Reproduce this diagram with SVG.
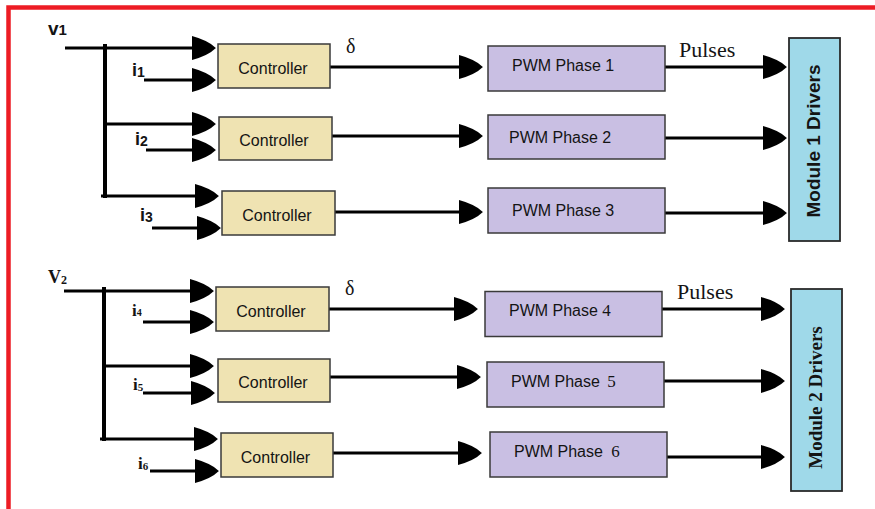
<svg xmlns="http://www.w3.org/2000/svg" width="875" height="509" viewBox="0 0 875 509">
  <style>
    .ctrl { fill: #efe3b2; stroke: #3a3a3a; stroke-width: 1.5; }
    .pwm { fill: #c9bfe3; stroke: #3a3a3a; stroke-width: 1.5; }
    .mod { fill: #9fd9e9; stroke: #2a2a2a; stroke-width: 1.8; }
    .sans { font-family: "Liberation Sans", Arial, sans-serif; fill: #141414; }
    .serif { font-family: "Liberation Serif", "Times New Roman", serif; fill: #141414; }
    .ct { font-size: 16px; text-anchor: middle; }
    .pt { font-size: 16px; }
    .wire { stroke: #000; stroke-width: 3; fill: none; }
    .arr { stroke: #000; stroke-width: 3; fill: none; marker-end: url(#ah); }
    .bus { stroke: #000; stroke-width: 4; fill: none; }
  </style>
  <defs>
    <marker id="ah" markerUnits="userSpaceOnUse" markerWidth="24" markerHeight="24" viewBox="0 0 22 22" refX="12" refY="11" orient="auto">
      <path d="M0,0 Q15,4 22,11 Q15,18 0,22 z" fill="#000"/>
    </marker>
  </defs>

  <rect width="875" height="509" fill="#fff"/>
  <!-- red frame -->
  <path d="M8.5,509 L8.5,7.5 L875,7.5" fill="none" stroke="#ed1c24" stroke-width="4.5"/>

  <!-- connectors -->
  <g id="connectors">
    <line class="bus" x1="105" y1="44" x2="105" y2="198"/>
    <line class="arr" x1="65" y1="48" x2="205" y2="48"/>
    <line class="arr" x1="103" y1="124" x2="205" y2="124"/>
    <line class="arr" x1="101" y1="196" x2="208" y2="196"/>
    <line class="arr" x1="144" y1="80" x2="205" y2="80"/>
    <line class="arr" x1="146" y1="150" x2="205" y2="150"/>
    <line class="arr" x1="152" y1="228" x2="210" y2="228"/>

    <line class="bus" x1="104" y1="287" x2="104" y2="441"/>
    <line class="arr" x1="64" y1="291" x2="203" y2="291"/>
    <line class="arr" x1="102" y1="366" x2="203" y2="366"/>
    <line class="arr" x1="100" y1="439" x2="207" y2="439"/>
    <line class="arr" x1="143" y1="322" x2="203" y2="322"/>
    <line class="arr" x1="143" y1="393" x2="204" y2="393"/>
    <line class="arr" x1="150" y1="471" x2="208" y2="471"/>

    <line class="arr" x1="330" y1="67" x2="472" y2="67"/>
    <line class="arr" x1="332" y1="136" x2="472" y2="136"/>
    <line class="arr" x1="335" y1="212" x2="472" y2="212"/>
    <line class="arr" x1="329" y1="309" x2="467" y2="309"/>
    <line class="arr" x1="330" y1="377" x2="470" y2="377"/>
    <line class="arr" x1="333" y1="453" x2="471" y2="453"/>

    <line class="arr" x1="665" y1="67" x2="776" y2="67"/>
    <line class="arr" x1="665" y1="138" x2="776" y2="138"/>
    <line class="arr" x1="665" y1="213" x2="776" y2="213"/>
    <line class="arr" x1="662" y1="309" x2="774" y2="309"/>
    <line class="arr" x1="664" y1="381" x2="774" y2="381"/>
    <line class="arr" x1="667" y1="457" x2="774" y2="457"/>
  </g>

  <!-- input / signal labels -->
  <g id="labels">
    <text class="sans" x="48" y="35" font-size="19" font-weight="bold">v<tspan font-size="15">1</tspan></text>
    <text class="sans" x="132" y="76" font-size="18" font-weight="bold">i<tspan font-size="14" dy="1">1</tspan></text>
    <text class="sans" x="135" y="145" font-size="18" font-weight="bold">i<tspan font-size="14" dy="1">2</tspan></text>
    <text class="sans" x="140" y="221" font-size="18" font-weight="bold">i<tspan font-size="14" dy="1">3</tspan></text>
    <text class="serif" x="48" y="283" font-size="18" font-weight="bold">V<tspan font-size="12" dy="1">2</tspan></text>
    <text class="serif" x="132" y="316" font-size="17" font-weight="bold">i<tspan font-size="10">4</tspan></text>
    <text class="serif" x="133" y="390" font-size="17" font-weight="bold">i<tspan font-size="11" dy="1">5</tspan></text>
    <text class="serif" x="138" y="469" font-size="17" font-weight="bold">i<tspan font-size="11" dy="1">6</tspan></text>
    <text class="serif" x="346" y="53" font-size="20">δ</text>
    <text class="serif" x="345" y="295" font-size="20">δ</text>
    <text class="serif" x="679" y="57" font-size="22">Pulses</text>
    <text class="serif" x="677" y="299" font-size="22">Pulses</text>
  </g>

  <!-- controllers -->
  <g id="controller1"><rect class="ctrl" x="218" y="44" width="112" height="44"/><text class="sans ct" x="273" y="74">Controller</text></g>
  <g id="controller2"><rect class="ctrl" x="219" y="117" width="113" height="43"/><text class="sans ct" x="274" y="146">Controller</text></g>
  <g id="controller3"><rect class="ctrl" x="222" y="191" width="113" height="44"/><text class="sans ct" x="277" y="220.5">Controller</text></g>
  <g id="controller4"><rect class="ctrl" x="216" y="287" width="113" height="44"/><text class="sans ct" x="271" y="316.5">Controller</text></g>
  <g id="controller5"><rect class="ctrl" x="218" y="359" width="112" height="43"/><text class="sans ct" x="273" y="388">Controller</text></g>
  <g id="controller6"><rect class="ctrl" x="221" y="433" width="112" height="44"/><text class="sans ct" x="275.5" y="463">Controller</text></g>

  <!-- PWM blocks -->
  <g id="pwm1"><rect class="pwm" x="488" y="46" width="177" height="45"/><text class="sans pt" x="512" y="71">PWM Phase 1</text></g>
  <g id="pwm2"><rect class="pwm" x="488" y="115" width="177" height="44"/><text class="sans pt" x="509" y="143">PWM Phase 2</text></g>
  <g id="pwm3"><rect class="pwm" x="488" y="188" width="177" height="45"/><text class="sans pt" x="512" y="216">PWM Phase 3</text></g>
  <g id="pwm4"><rect class="pwm" x="485" y="291.5" width="177" height="45"/><text class="sans pt" x="509" y="316">PWM Phase <tspan font-family="'Liberation Serif', serif" font-size="17">4</tspan></text></g>
  <g id="pwm5"><rect class="pwm" x="487" y="362" width="177" height="45"/><text class="sans pt" x="511" y="387">PWM Phase <tspan dx="3" font-family="'Liberation Serif', serif" font-size="17">5</tspan></text></g>
  <g id="pwm6"><rect class="pwm" x="490" y="432" width="177" height="45"/><text class="sans pt" x="514" y="457">PWM Phase <tspan dx="4" font-family="'Liberation Serif', serif" font-size="17">6</tspan></text></g>

  <!-- driver modules -->
  <g id="module1"><rect class="mod" x="789" y="38" width="51" height="203"/><text class="sans" font-size="19" font-weight="bold" text-anchor="middle" transform="translate(820,141) rotate(-90)">Module 1 Drivers</text></g>
  <g id="module2"><rect class="mod" x="791" y="289" width="51" height="202"/><text class="serif" font-size="19" font-weight="bold" text-anchor="middle" transform="translate(822,397.5) rotate(-90)">Module 2 Drivers</text></g>
</svg>
